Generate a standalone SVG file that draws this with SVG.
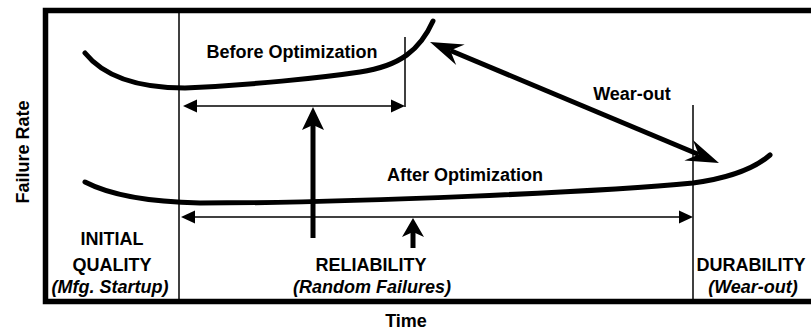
<svg xmlns="http://www.w3.org/2000/svg" width="811" height="331" viewBox="0 0 811 331">
<style>
.t{font-family:"Liberation Sans",Arial,sans-serif;font-weight:bold;font-size:18px;fill:#000;text-anchor:middle}
.i{font-style:italic}
.frame{fill:none;stroke:#000;stroke-width:5.5}
.thin{fill:none;stroke:#000;stroke-width:1.5}
.curve{fill:none;stroke:#000;stroke-width:5;stroke-linecap:round}
.thick{fill:none;stroke:#000;stroke-width:5}
.head{fill:#000;stroke:none}
</style>
<rect width="811" height="331" fill="#fff"/>
<g id="frame">
<path class="frame" d="M811,10.5 H45.5 V301.5 H811"/>
<line class="thin" x1="179" y1="13" x2="179" y2="299"/>
<line class="thin" x1="693" y1="105" x2="693" y2="299"/>
<line class="thin" x1="405" y1="37" x2="405" y2="107"/>
</g>
<g id="before-curve">
<path class="curve" d="M85,53 C105,78 140,88 185,88 C250,85 320,78 360,72 C400,66 420,50 433,21"/>
<text class="t" x="292" y="58">Before Optimization</text>
</g>
<g id="after-curve">
<path class="curve" d="M85,182 C110,195 150,202 200,203 C350,203 600,192 693,183 C730,178 755,168 770,155"/>
<text class="t" x="465" y="181">After Optimization</text>
</g>
<g id="connectors">
<line class="thin" x1="190" y1="106" x2="398" y2="106"/>
<polygon class="head" points="183,106 197,99.5 197,112.5"/>
<polygon class="head" points="405,106 391,99.5 391,112.5"/>
<line class="thin" x1="188" y1="217" x2="686" y2="217"/>
<polygon class="head" points="181,217 195,210.5 195,223.5"/>
<polygon class="head" points="693,217 679,210.5 679,223.5"/>
<line class="thick" x1="313" y1="238" x2="313" y2="122"/>
<polygon class="head" points="313,107 324,130 313,125 302,130"/>
<line class="thick" x1="413" y1="248" x2="413" y2="230"/>
<polygon class="head" points="413,218 424,237 413,232 402,237"/>
<line class="thick" x1="450.3" y1="50.5" x2="698.7" y2="154.5"/>
<polygon class="head" points="430,42 464.7,44.6 450.3,50.5 456.2,64.9"/>
<polygon class="head" points="719,163 684.4,160.4 698.7,154.5 692.9,140.1"/>
</g>
<g id="wearout-label"><text class="t" x="632" y="100">Wear-out</text></g>
<g id="initial-quality">
<text class="t" x="112" y="245">INITIAL</text>
<text class="t" x="112" y="271">QUALITY</text>
<text class="t i" x="110" y="293">(Mfg. Startup)</text>
</g>
<g id="reliability">
<text class="t" x="371" y="271">RELIABILITY</text>
<text class="t i" x="372" y="293">(Random Failures)</text>
</g>
<g id="durability">
<text class="t" x="751" y="271">DURABILITY</text>
<text class="t i" x="753" y="293">(Wear-out)</text>
</g>
<g id="axes">
<text class="t" x="406" y="327">Time</text>
<text class="t" transform="translate(29,152) rotate(-90)">Failure Rate</text>
</g>
</svg>
